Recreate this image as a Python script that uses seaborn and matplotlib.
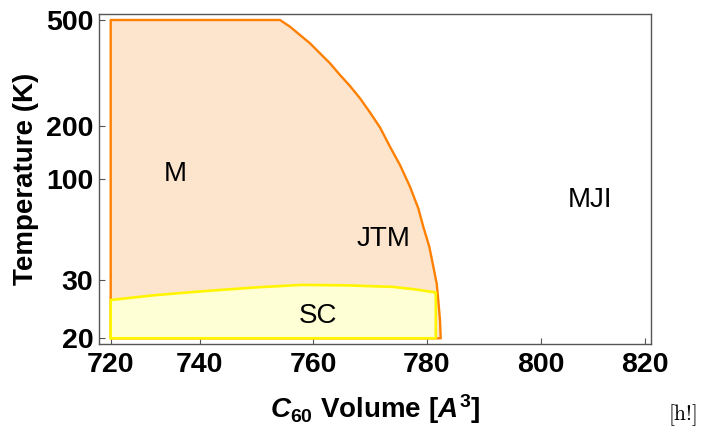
import numpy as np
import pandas as pd
import matplotlib
matplotlib.use("Agg")
import matplotlib.pyplot as plt
import seaborn as sns

# ---- data -------------------------------------------------------------
volume_ticks = [720, 740, 760, 780, 800, 820]
temperature_ticks = [20, 30, 100, 200, 500]

# metallic / Jahn-Teller metal region outline
jt_volume = [720.0, 720.0, 754.17, 755.94, 757.70, 759.47, 761.23, 762.99,
             764.75, 766.51, 768.27, 770.03, 771.79, 773.54, 775.30, 777.06,
             778.52, 779.40, 780.46, 781.16, 781.75, 782.03, 782.33, 782.46,
             720.0]
jt_temperature = [20.0, 500.0, 500.0, 471.9, 439.2, 408.8, 374.9, 343.9,
                  310.8, 282.6, 254.1, 224.8, 196.1, 152.6, 120.1, 91.2,
                  70.5, 56.6, 44.6, 35.2, 29.3, 26.1, 22.7, 20.0,
                  20.0]

# superconducting dome outline
sc_volume = [720.0, 720.0, 730.0, 740.0, 750.0, 758.0, 766.0, 774.0,
             778.0, 781.6, 781.6, 720.0]
sc_temperature = [20.0, 26.1, 27.0, 27.7, 28.5, 29.0, 28.9, 28.6,
                  28.1, 27.5, 20.0, 20.0]

phase_labels = ["M", "JTM", "SC", "MJI"]
label_volume = [734.6, 772.4, 760.9, 809.5]
label_temperature = [106.8, 48.7, 23.4, 77.9]

# ---- axis scales (non-uniform tick spacing) ---------------------------
_vol_anchor = np.array([700, 720, 740, 760, 780, 800, 820, 840], float)
_vol_pos = np.array([21.7, 110.7, 199.7, 313.0, 426.7, 540.7, 644.7, 748.7])

_t_anchor = np.log10([10, 20, 30, 100, 200, 500, 1000])
_t_pos = -np.array([437.9, 338.3, 280.0, 179.0, 126.0, 20.0, -60.2])


def vol_fwd(v):
    return np.interp(v, _vol_anchor, _vol_pos)


def vol_inv(p):
    return np.interp(p, _vol_pos, _vol_anchor)


def t_fwd(t):
    t = np.clip(np.asarray(t, float), 1e-3, None)
    return np.interp(np.log10(t), _t_anchor, _t_pos)


def t_inv(p):
    return 10.0 ** np.interp(p, _t_pos, _t_anchor)


# ---- styling ----------------------------------------------------------
sns.set_theme(style="ticks")
plt.rcParams["font.family"] = ["Liberation Sans", "DejaVu Sans"]
plt.rcParams["text.color"] = "black"
plt.rcParams["axes.labelcolor"] = "black"
plt.rcParams["mathtext.fontset"] = "custom"
plt.rcParams["mathtext.rm"] = "Liberation Sans:bold"
plt.rcParams["mathtext.bf"] = "Liberation Sans:bold"
plt.rcParams["mathtext.it"] = "Liberation Sans:italic:bold"

orange = "#FF8000"
peach = "#FDE4CD"
yellow = "#FFF500"
pale_yellow = "#FFFFD6"

fig = plt.figure(figsize=(7.15, 4.28), dpi=100)
ax = fig.add_axes([99 / 715, 1 - 344 / 428, 552 / 715, 330 / 428])

ax.set_xscale("function", functions=(vol_fwd, vol_inv))
ax.set_yscale("function", functions=(t_fwd, t_inv))
ax.set_xlim(float(vol_inv(99.0)), float(vol_inv(651.0)))
ax.set_ylim(float(t_inv(-344.0)), float(t_inv(-14.0)))

jt_df = pd.DataFrame({"volume": jt_volume, "temperature": jt_temperature})
sc_df = pd.DataFrame({"volume": sc_volume, "temperature": sc_temperature})

ax.fill(jt_df["volume"], jt_df["temperature"], color=peach, lw=0, zorder=1)
sns.lineplot(data=jt_df, x="volume", y="temperature", sort=False,
             estimator=None, color=orange, lw=1.7, ax=ax, zorder=2)
ax.fill(sc_df["volume"], sc_df["temperature"], color=pale_yellow, lw=0,
        zorder=3)
sns.lineplot(data=sc_df, x="volume", y="temperature", sort=False,
             estimator=None, color=yellow, lw=1.9, ax=ax, zorder=4)

for name, v, t in zip(phase_labels, label_volume, label_temperature):
    ax.text(v, t, name, ha="center", va="center", fontsize=20,
            color="black", zorder=5)

ax.set_xlim(float(vol_inv(99.0)), float(vol_inv(651.0)))
ax.set_ylim(float(t_inv(-344.0)), float(t_inv(-14.0)))

ax.set_xticks(volume_ticks)
ax.set_xticklabels([str(v) for v in volume_ticks], fontweight="bold",
                   fontsize=20.5)
ax.set_yticks(temperature_ticks)
ax.set_yticklabels([str(t) for t in temperature_ticks], fontweight="bold",
                   fontsize=20.5)
ax.minorticks_off()
ax.tick_params(direction="in", length=4, width=0.8, color="#555555",
               labelcolor="black")
ax.tick_params(axis="x", pad=6)
ax.tick_params(axis="y", pad=4)

for side in ["left", "right", "top", "bottom"]:
    ax.spines[side].set_color("#555555")
    ax.spines[side].set_linewidth(1.0)

ax.set_ylabel("Temperature (K)", fontsize=20, fontweight="bold")
ax.yaxis.set_label_coords(-0.108, 0.5)
ax.set_xlabel(r"$C_{60}$ Volume [$A^{3}$]", fontsize=20, fontweight="bold")
ax.xaxis.set_label_coords(0.5, -0.145)

fig.text(683 / 715, 1 - 415 / 428, "[h!]", family="cmr10", fontsize=15.5,
         ha="center", va="center")

fig.savefig("out.png", dpi=100, facecolor="white")
